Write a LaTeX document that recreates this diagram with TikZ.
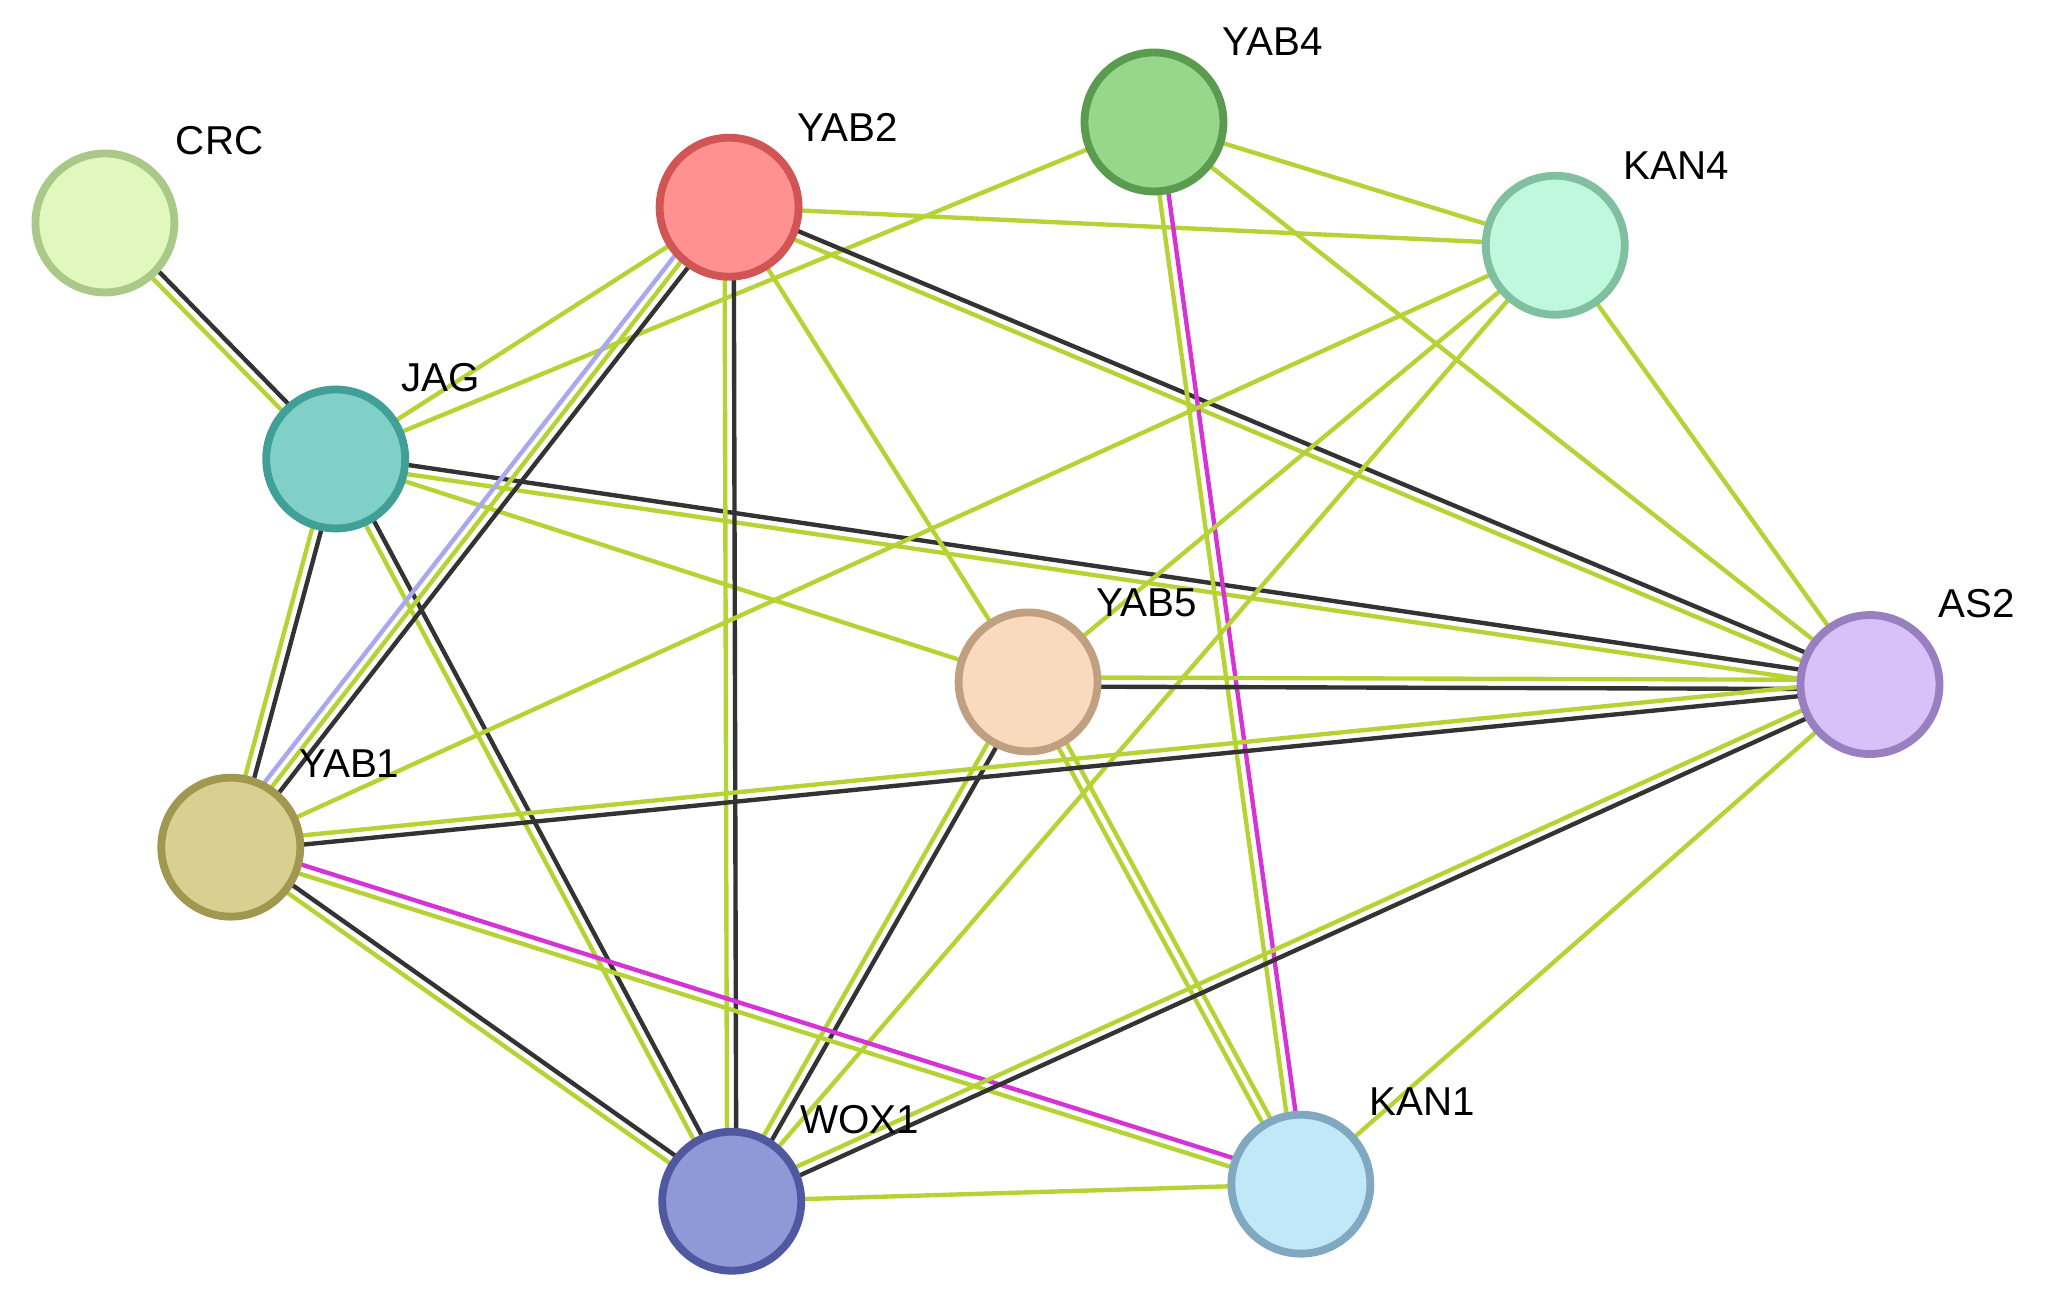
\documentclass[tikz,border=0pt]{standalone}
\usepackage{fontspec}
\setmainfont{Liberation Sans}
\usetikzlibrary{calc,backgrounds}
\definecolor{ol}{HTML}{B5D334}
\definecolor{bk}{HTML}{333333}
\definecolor{mg}{HTML}{D633D6}
\definecolor{lv}{HTML}{A8A8F0}
\tikzset{x=0.02cm,y=-0.02cm,
 prot/.style={circle,minimum size=2.12cm,line width=3.4pt,inner sep=0pt},
 lab/.style={font=\fontsize{17.5}{17.5}\selectfont},
 e/.style={line width=1.9pt}}
\newcommand\one[3]{\draw[e,#3] (#1.center) -- (#2.center);}
\newcommand\two[4]{%
 \draw[e,#3] ($(#1.center)!0.07cm!90:(#2.center)$) -- ($(#2.center)!0.07cm!-90:(#1.center)$);
 \draw[e,#4] ($(#1.center)!0.07cm!-90:(#2.center)$) -- ($(#2.center)!0.07cm!90:(#1.center)$);}
\begin{document}
\begin{tikzpicture}
\useasboundingbox (0,0) rectangle (1561,992);
\node[prot,fill={rgb,255:red,224;green,248;blue,190},draw={rgb,255:red,170;green,200;blue,135}] (CRC) at (80,170) {};
\node[prot,fill={rgb,255:red,255;green,145;blue,145},draw={rgb,255:red,210;green,85;blue,85}] (YAB2) at (556,158) {};
\node[prot,fill={rgb,255:red,150;green,215;blue,140},draw={rgb,255:red,90;green,155;blue,80}] (YAB4) at (880,93) {};
\node[prot,fill={rgb,255:red,192;green,248;blue,222},draw={rgb,255:red,128;green,192;blue,160}] (KAN4) at (1186,187) {};
\node[prot,fill={rgb,255:red,128;green,208;blue,200},draw={rgb,255:red,64;green,160;blue,152}] (JAG) at (256,350) {};
\node[prot,fill={rgb,255:red,250;green,218;blue,188},draw={rgb,255:red,192;green,160;blue,128}] (YAB5) at (784,520) {};
\node[prot,fill={rgb,255:red,216;green,192;blue,248},draw={rgb,255:red,152;green,128;blue,192}] (AS2) at (1426,522) {};
\node[prot,fill={rgb,255:red,216;green,208;blue,144},draw={rgb,255:red,160;green,152;blue,80}] (YAB1) at (176,646) {};
\node[prot,fill={rgb,255:red,144;green,152;blue,216},draw={rgb,255:red,80;green,88;blue,160}] (WOX1) at (558,916) {};
\node[prot,fill={rgb,255:red,192;green,232;blue,248},draw={rgb,255:red,128;green,168;blue,192}] (KAN1) at (992,903) {};
\begin{scope}[on background layer]
\two{CRC}{JAG}{bk}{ol}
\one{JAG}{YAB2}{ol}
\one{JAG}{YAB4}{ol}
\two{JAG}{YAB1}{bk}{ol}
\two{JAG}{WOX1}{bk}{ol}
\one{JAG}{YAB5}{ol}
\two{JAG}{AS2}{bk}{ol}
\two{YAB2}{YAB1}{bk}{ol}
\draw[e,lv] ($(YAB2.center)!0.2cm!-90:(YAB1.center)$) -- ($(YAB1.center)!0.2cm!90:(YAB2.center)$);
\two{YAB2}{WOX1}{bk}{ol}
\one{YAB2}{YAB5}{ol}
\one{YAB2}{KAN4}{ol}
\two{YAB2}{AS2}{bk}{ol}
\one{YAB4}{KAN4}{ol}
\one{YAB4}{AS2}{ol}
\two{YAB4}{KAN1}{mg}{ol}
\one{KAN4}{YAB1}{ol}
\one{KAN4}{YAB5}{ol}
\one{KAN4}{WOX1}{ol}
\one{KAN4}{AS2}{ol}
\two{YAB5}{AS2}{ol}{bk}
\two{YAB5}{WOX1}{bk}{ol}
\two{YAB5}{KAN1}{ol}{ol}
\two{YAB1}{AS2}{ol}{bk}
\two{YAB1}{WOX1}{bk}{ol}
\two{YAB1}{KAN1}{mg}{ol}
\two{AS2}{WOX1}{bk}{ol}
\one{AS2}{KAN1}{ol}
\one{WOX1}{KAN1}{ol}
\end{scope}
\node[lab,anchor=west] (lCRC) at (128,107) {CRC};
\node[lab,anchor=west] (lYAB2) at (602,97) {YAB2};
\node[lab,anchor=west] (lYAB4) at (926,32) {YAB4};
\node[lab,anchor=west] (lKAN4) at (1232,126) {KAN4};
\node[lab,anchor=west] (lJAG) at (300,288) {JAG};
\node[lab,anchor=west] (lYAB5) at (830,460) {YAB5};
\node[lab,anchor=west] (lAS2) at (1472,460) {AS2};
\node[lab,anchor=west] (lYAB1) at (222,582) {YAB1};
\node[lab,anchor=west] (lWOX1) at (604,854) {WOX1};
\node[lab,anchor=west] (lKAN1) at (1038,840) {KAN1};
\end{tikzpicture}
\end{document}
